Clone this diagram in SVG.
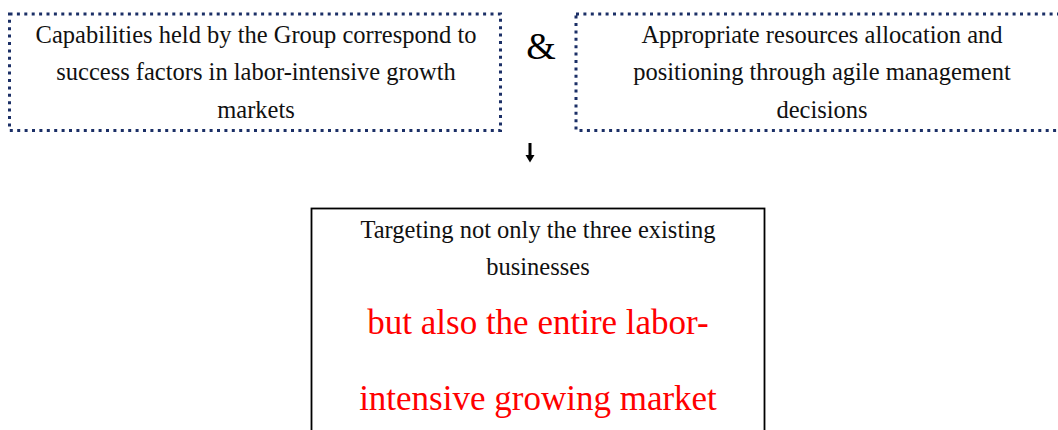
<svg xmlns="http://www.w3.org/2000/svg" width="1058" height="430" viewBox="0 0 1058 430">
  <style>
    .dotted { fill: #ffffff; stroke: #1b2f66; stroke-width: 3; stroke-dasharray: 3 4.4; }
    .solid { fill: #ffffff; stroke: #000000; stroke-width: 1.8; }
    .t { font-family: "Liberation Serif", "Times New Roman", serif; font-size: 24.5px; fill: #111111; text-anchor: middle; }
    .big { font-family: "Liberation Serif", "Times New Roman", serif; font-size: 35px; fill: #ff0000; text-anchor: middle; }
    .amp { font-family: "Liberation Serif", "Times New Roman", serif; font-size: 38px; fill: #000000; text-anchor: middle; }
  </style>
  <rect width="1058" height="430" fill="#ffffff"/>

  <g id="capabilities">
    <rect class="dotted" x="9.5" y="14" width="491" height="116.5"/>
    <text class="t" x="256" y="43">Capabilities held by the Group correspond to</text>
    <text class="t" x="256" y="80">success factors in labor-intensive growth</text>
    <text class="t" x="256" y="118">markets</text>
  </g>

  <g id="and">
    <text class="amp" x="541" y="59">&amp;</text>
  </g>

  <g id="resources">
    <rect class="dotted" x="576" y="14" width="500" height="116.5"/>
    <text class="t" x="822" y="43">Appropriate resources allocation and</text>
    <text class="t" x="822" y="80">positioning through agile management</text>
    <text class="t" x="822" y="118">decisions</text>
  </g>

  <g id="connectors">
    <path d="M530 143 V156" stroke="#000000" stroke-width="3" fill="none"/>
    <path d="M525.5 155 L534.5 155 L530 162.5 Z" fill="#000000"/>
  </g>

  <g id="target">
    <rect class="solid" x="311.5" y="208.5" width="453" height="240"/>
    <text class="t" x="538" y="238">Targeting not only the three existing</text>
    <text class="t" x="538" y="275">businesses</text>
    <text class="big" x="538" y="334">but also the entire labor-</text>
    <text class="big" x="538" y="410">intensive growing market</text>
  </g>
</svg>
